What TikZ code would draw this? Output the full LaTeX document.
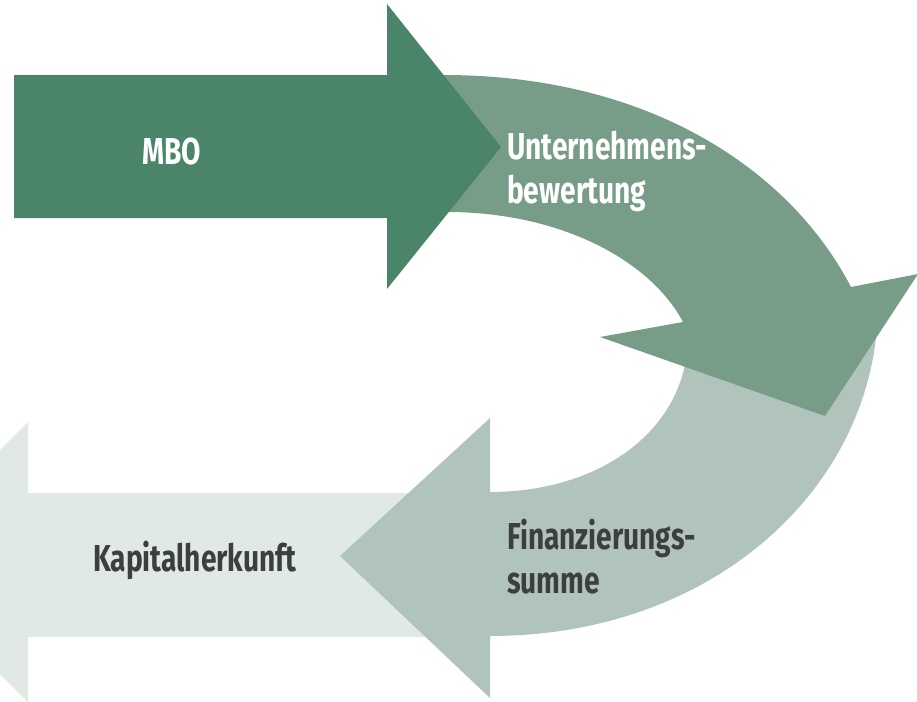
\documentclass[tikz,border=0pt]{standalone}
\usepackage{fontspec}
\newfontfamily\labelfont{Fira Sans}[FakeStretch=0.75]
\definecolor{mbogreen}{HTML}{4A8469}
\definecolor{midgreen}{HTML}{779D89}
\definecolor{softgreen}{HTML}{B1C4BB}
\definecolor{palegreen}{HTML}{E0E9E4}
\definecolor{darktext}{HTML}{3C3F3E}
\begin{document}
\begin{tikzpicture}[x=1pt,y=-1pt,
  arrowtext/.style={font=\labelfont\bfseries\fontsize{37.5}{43.5}\selectfont,
    inner sep=0pt, align=left, anchor=base west}]
\useasboundingbox (0,0) rectangle (917,701);
\clip (0,0) rectangle (917,701);

% Kapitalherkunft: straight arrow pointing left, tip beyond the left edge
\fill[palegreen] (28,493) -- (430,493) -- (430,637) -- (28,637) -- (28,702)
  -- (-112,562) -- (28,422) -- cycle;

% Finanzierungssumme: curved arrow bending back to the left
\fill[softgreen] (878,300) .. controls (880,480) and (720,636) .. (490,636)
  -- (490,698) -- (340,556) -- (490,418) -- (490,492)
  .. controls (600,492) and (688,430) .. (688,335) -- cycle;

% Unternehmensbewertung: curved arrow bending down to the right
\fill[midgreen] (420,75) -- (443,75) .. controls (650,75) and (790,170) .. (851,287)
  -- (918,274) -- (825,416) -- (600,337) -- (683,322)
  .. controls (650,260) and (560,212) .. (447,212) -- (420,212) -- cycle;

% MBO: straight arrow pointing right
\fill[mbogreen] (14,75) -- (387,75) -- (387,4) -- (501,147) -- (387,289)
  -- (387,218) -- (14,218) -- cycle;

% labels (base anchor of a two-line label sits on its last line)
\node[arrowtext, text=white] (mbo) at (142,164) {MBO};
\node[arrowtext, text=white] (bew) at (507,203) {Unternehmens-\\bewertung};
\node[arrowtext, text=darktext] (fin) at (507,593) {Finanzierungs-\\summe};
\node[arrowtext, text=darktext] (kap) at (93,571) {Kapitalherkunft};
\end{tikzpicture}
\end{document}
